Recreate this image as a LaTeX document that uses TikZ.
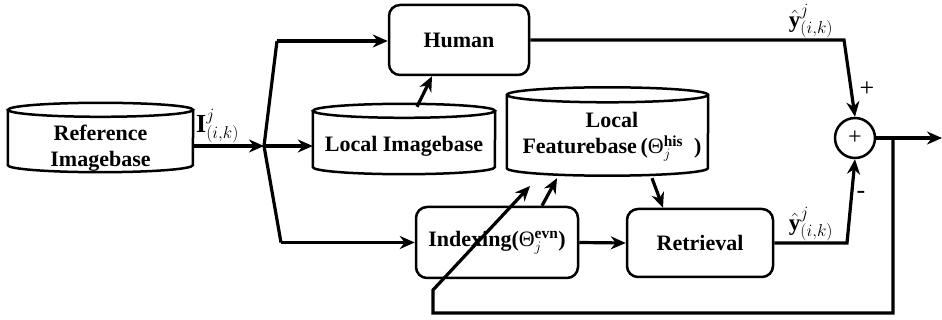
\documentclass[tikz,border=0pt]{standalone}
\usepackage{fontspec}
\setmainfont{Liberation Serif}
\usetikzlibrary{arrows.meta,calc}
\newcommand\cylout[3]{%
  \draw[cylline] (#1.north) ellipse[x radius=#2pt, y radius=#3pt];
  \draw[cylline] (#1.north west) -- (#1.south west)
     arc[start angle=180,end angle=360,x radius=#2pt,y radius=#3pt] -- (#1.north east);}
\newcommand\mytheta[1]{{\mdseries Θ}$_{j}^{\mathbf{#1}}$}
\begin{document}
\begin{tikzpicture}[x=1pt,y=-1pt,
  box/.style={draw,line width=2.5pt,rounded corners=11pt,inner sep=0,font=\bfseries\fontsize{22}{26}\selectfont},
  cylbody/.style={inner sep=0},
  cylline/.style={line width=2.5pt},
  txt/.style={font=\bfseries\fontsize{22}{26}\selectfont,align=center,inner sep=0},
  flow/.style={line width=3.2pt,-{Stealth[length=15pt,width=13pt]}},
  wire/.style={line width=3.2pt},
  lab/.style={font=\fontsize{23}{26}\selectfont,inner sep=0}]
\useasboundingbox (0,0) rectangle (942,320);

% cylinders
\node[cylbody,minimum width=185pt,minimum height=55pt] (ref) at (100.5,137.5) {};
\node[cylbody,minimum width=182pt,minimum height=56pt] (limg) at (404,139) {};
\node[cylbody,minimum width=201pt,minimum height=73pt] (lfeat) at (607.5,131.5) {};
\cylout{ref}{92.5}{7}
\cylout{limg}{91}{7}
\cylout{lfeat}{100.5}{7.5}
\node[txt] (reft) at (100.5,148) {Reference\\Imagebase};
\node[txt] (limgt) at (404,146) {Local Imagebase};
\node[txt] (lfeatt) at (612,137) {Local\\Featurebase\,(\mytheta{his}\ \ )};

% boxes
\node[box,minimum width=140pt,minimum height=70pt] (human) at (459,40) {Human};
\node[box,minimum width=162pt,minimum height=71pt] (idx) at (497,242.5) {Indexing(\mytheta{evn})};
\node[box,minimum width=146pt,minimum height=68pt] (ret) at (700,243) {Retrieval};
\node[draw,circle,line width=2.5pt,minimum size=40pt,inner sep=0,font=\fontsize{24}{26}\selectfont] (sum) at (855,138) {+};

% branch
\coordinate (br) at (264,146);
\coordinate (brtop) at (277,41);
\coordinate (brbot) at (281,242.5);
\draw[flow] (ref.east |- br) -- (br);
\node[lab,anchor=south west,font=\fontsize{26}{28}\selectfont] (ilab) at (196,143) {$\mathbf{I}_{(i,k)}^{j}$};
\draw[wire] (br) -- (brtop);
\draw[wire] (br) -- (brbot);
\draw[flow] (brtop) -- (brtop -| human.west);
\draw[flow] (br) -- (br -| limg.west);
\draw[flow] (brbot) -- (brbot -| idx.west);

% internal arrows
\draw[flow] ($(limg.north)+(13,-4)$) -- ($(human.south)+(-27,0)$);
\draw[flow] (idx.east) -- (ret.west);
\draw[flow] ($(idx.north)+(45,0)$) -- ($(lfeat.south)+(-50.5,10)$);
\draw[flow] ($(lfeat.south)+(44.5,10)$) -- ($(ret.north)+(-37,0)$);

% outputs
\coordinate (tc) at (844,40);
\coordinate (bc) at (847,243);
\draw[flow] (human.east) -- (tc) -- (sum.north);
\draw[flow] (ret.east) -- (bc) -- (sum.south);
\node[lab] (ytop) at (811,21) {$\hat{\mathbf{y}}_{(i,k)}^{j}$};
\node[lab] (ybot) at (811,224) {$\hat{\mathbf{y}}_{(i,k)}^{j}$};
\node[lab,font=\fontsize{26}{28}\selectfont] (plus) at (867,89) {+};
\node[lab,font=\fontsize{26}{28}\selectfont] (minus) at (861,195) {-};

% output and feedback
\coordinate (out) at (942,138);
\coordinate (fb) at (893,138);
\draw[flow] (sum.east) -- (out);
\coordinate (fb1) at (893,313);
\coordinate (fb2) at (433,313);
\coordinate (fb3) at (433,290);
\coordinate (fbtip) at (530,186);
\draw[flow] (fb) -- (fb1) -- (fb2) -- (fb3) -- (fbtip);
\end{tikzpicture}
\end{document}
